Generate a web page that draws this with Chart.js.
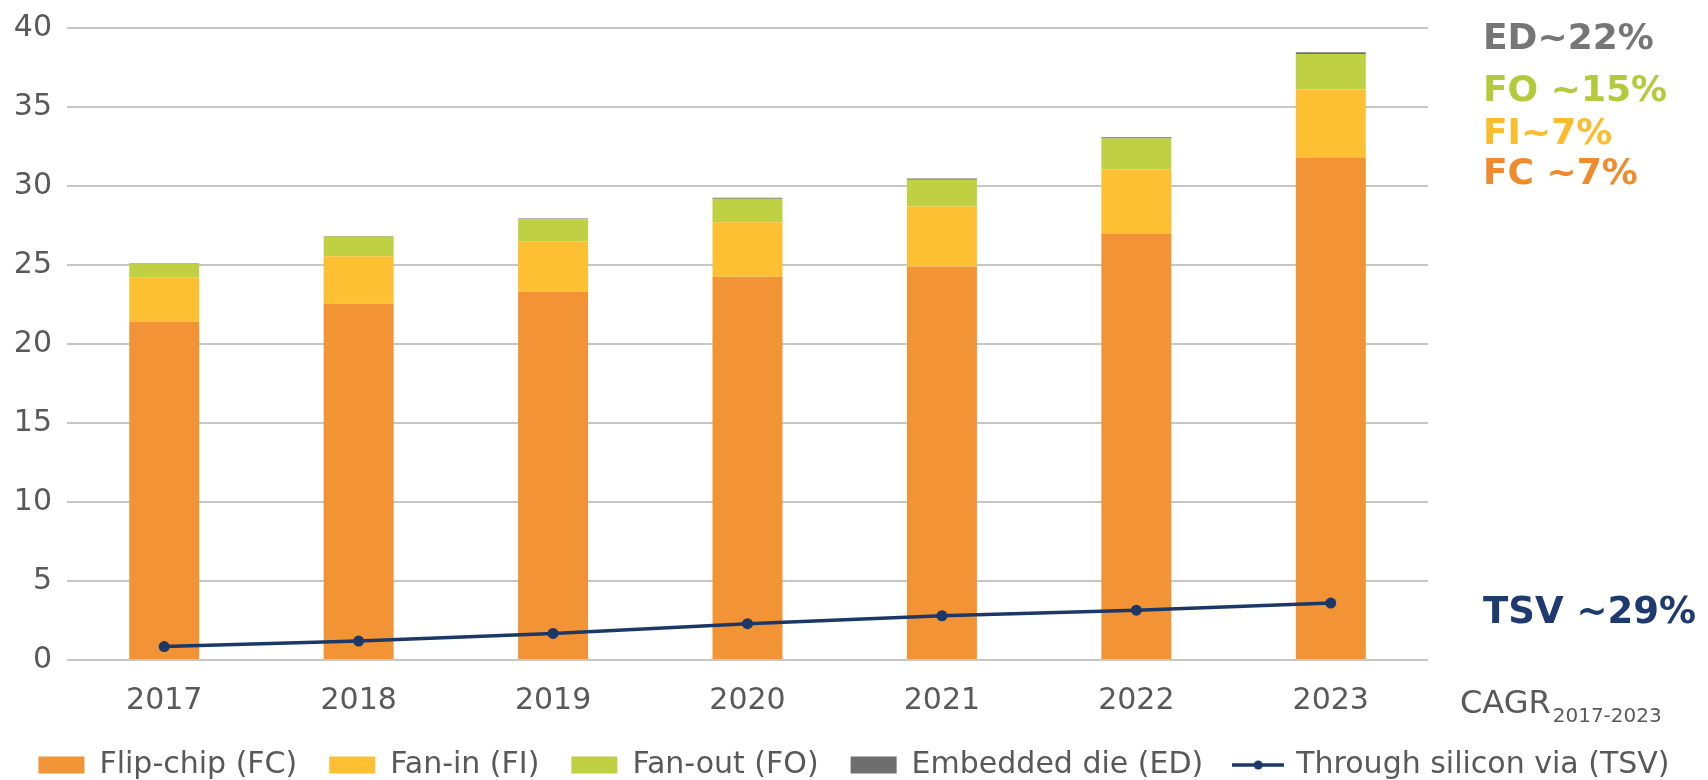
<!DOCTYPE html>
<html>
<head>
<meta charset="utf-8">
<script src="https://cdn.jsdelivr.net/npm/chart.js@4/dist/chart.umd.min.js"></script>
<style>
  html, body { margin: 0; padding: 0; background: #fff; }
  #wrap { position: relative; width: 1708px; height: 780px; overflow: hidden; }
  #c { position: absolute; left: 0; top: 0; }
  .ann { position: absolute; font-family: "DejaVu Sans", sans-serif; font-weight: bold; line-height: 1; white-space: nowrap; }
  .cagr { position: absolute; font-family: "DejaVu Sans", sans-serif; color: #595959; line-height: 1; white-space: nowrap; }
  .cagr sub { font-size: 20px; vertical-align: -9px; margin-left: 2px; }
</style>
</head>
<body>
<div id="wrap">
  <canvas id="c" width="1708" height="780"></canvas>
  <div class="ann" style="left:1483px; top:19px; font-size:36px; color:#767676;">ED~22%</div>
  <div class="ann" style="left:1483px; top:71px; font-size:36px; color:#B2CB3A;">FO ~15%</div>
  <div class="ann" style="left:1483px; top:114px; font-size:36px; color:#FBBD2E;">FI~7%</div>
  <div class="ann" style="left:1483px; top:154px; font-size:36px; color:#EF8B2D;">FC ~7%</div>
  <div class="ann" style="left:1483px; top:592px; font-size:37px; color:#1E3A6E;">TSV ~29%</div>
  <div class="cagr" style="left:1460px; top:686px; font-size:32px;">CAGR<sub>2017-2023</sub></div>
</div>
<script>
const years = ['2017', '2018', '2019', '2020', '2021', '2022', '2023'];
const flipChip = [21.4, 22.55, 23.3, 24.25, 24.9, 27.0, 31.8];
const fanIn = [2.8, 3.0, 3.2, 3.45, 3.8, 4.05, 4.3];
const fanOut = [0.9, 1.25, 1.4, 1.5, 1.7, 1.95, 2.25];
const embeddedDie = [0.03, 0.04, 0.05, 0.06, 0.07, 0.09, 0.12];
const tsv = [0.85, 1.2, 1.68, 2.3, 2.8, 3.15, 3.6];
const yTicks = [0, 5, 10, 15, 20, 25, 30, 35, 40];

const seriesNames = ['Flip-chip (FC)', 'Fan-in (FI)', 'Fan-out (FO)', 'Embedded die (ED)', 'Through silicon via (TSV)'];
const colors = ['#F29335', '#FDC032', '#BFD142', '#6E6E6E', '#1B3867'];

// legend icon for line series
const lineIcon = document.createElement('canvas');
lineIcon.width = 52; lineIcon.height = 12;
(function () {
  const g = lineIcon.getContext('2d');
  g.strokeStyle = colors[4]; g.lineWidth = 3.5;
  g.beginPath(); g.moveTo(0, 6); g.lineTo(52, 6); g.stroke();
  g.fillStyle = colors[4];
  g.beginPath(); g.arc(26, 6, 4.5, 0, Math.PI * 2); g.fill();
})();

const tickFont = { family: 'DejaVu Sans', size: 30 };
const barCommon = { stack: 's', borderWidth: 0, pointStyle: 'rect', barPercentage: 0.36, categoryPercentage: 1, order: 1 };

new Chart(document.getElementById('c'), {
  type: 'bar',
  data: {
    labels: years,
    datasets: [
      Object.assign({ label: seriesNames[0], data: flipChip, backgroundColor: colors[0] }, barCommon),
      Object.assign({ label: seriesNames[1], data: fanIn, backgroundColor: colors[1] }, barCommon),
      Object.assign({ label: seriesNames[2], data: fanOut, backgroundColor: colors[2] }, barCommon),
      Object.assign({ label: seriesNames[3], data: embeddedDie, backgroundColor: colors[3] }, barCommon),
      {
        type: 'line', label: seriesNames[4], data: tsv,
        borderColor: colors[4], backgroundColor: colors[4], borderWidth: 3.5,
        pointRadius: 5.5, pointHoverRadius: 5.5, pointBackgroundColor: colors[4], pointBorderWidth: 0,
        tension: 0, order: 0, yAxisID: 'y'
      }
    ]
  },
  options: {
    responsive: false,
    animation: false,
    devicePixelRatio: 1,
    layout: { padding: { top: 28, bottom: -10, left: 0, right: 0 } },
    scales: {
      x: {
        stacked: true,
        afterFit(scale) { scale.height = 58; },
        grid: { display: false, drawTicks: false },
        border: { display: false },
        ticks: { color: '#595959', font: tickFont, padding: 23 }
      },
      y: {
        stacked: true,
        min: 0, max: 40,
        afterBuildTicks(scale) { scale.ticks = yTicks.map(v => ({ value: v })); },
        afterFit(scale) { scale.width = 67; scale.paddingTop = 0; scale.paddingBottom = 0; },
        grid: { color: '#C6C6C6', lineWidth: 2, drawTicks: false },
        border: { display: false },
        ticks: { color: '#595959', font: tickFont, padding: 15 }
      },
      yR: {
        type: 'linear', position: 'right', display: true,
        afterFit(scale) { scale.width = 280; scale.paddingTop = 0; scale.paddingBottom = 0; },
        grid: { display: false, drawTicks: false },
        border: { display: false },
        ticks: { display: false }
      }
    },
    plugins: {
      tooltip: { enabled: false },
      legend: {
        position: 'bottom',
        labels: {
          color: '#595959',
          font: { family: 'DejaVu Sans', size: 30 },
          usePointStyle: true,
          pointStyleWidth: 46,
          boxHeight: 17,
          padding: 32,
          sort: (a, b) => a.datasetIndex - b.datasetIndex,
          generateLabels(chart) {
            const items = Chart.defaults.plugins.legend.labels.generateLabels(chart);
            items.forEach(it => {
              if (it.datasetIndex === 4) { it.pointStyle = lineIcon; }
              else { it.pointStyle = 'rect'; it.lineWidth = 0; it.strokeStyle = 'rgba(0,0,0,0)'; }
            });
            return items;
          }
        }
      }
    }
  }
});
</script>
</body>
</html>
